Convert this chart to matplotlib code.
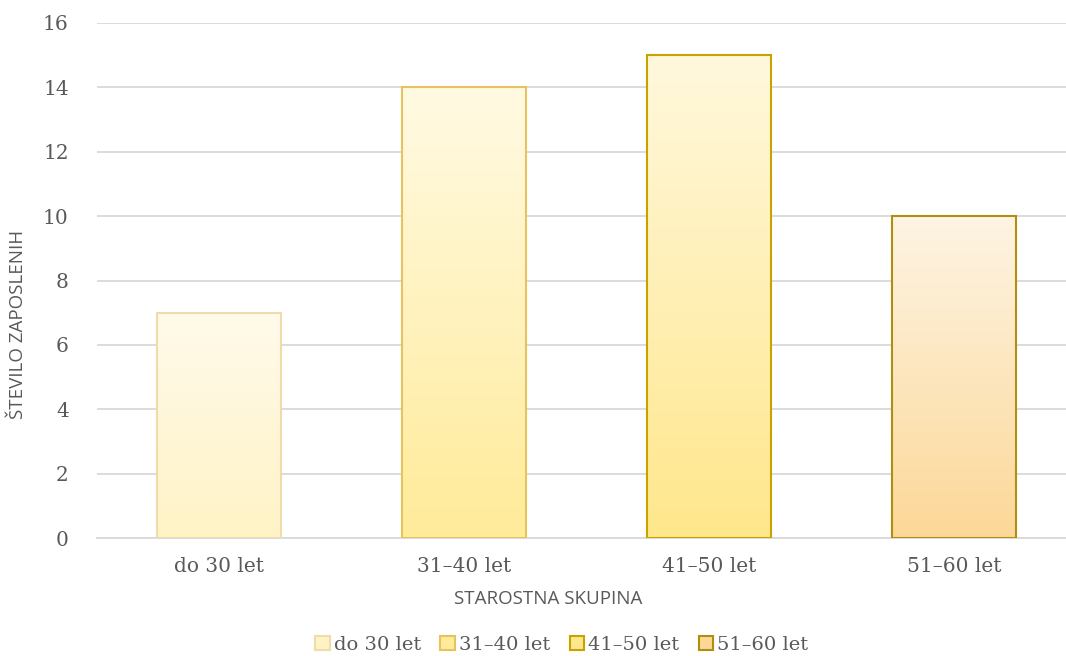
import numpy as np
import matplotlib
matplotlib.use("Agg")
import matplotlib.pyplot as plt
from matplotlib.colors import LinearSegmentedColormap
from matplotlib.patches import Patch

categories = ["do 30 let", "31–40 let", "41–50 let", "51–60 let"]
values = [7, 14, 15, 10]

# barve: zgoraj, spodaj, rob
top_colors = ["#FFFAEB", "#FFFAE3", "#FFF8DD", "#FEF4E4"]
bottom_colors = ["#FFF3C6", "#FFEB99", "#FFE78C", "#FCD898"]
edge_colors = ["#EEDDA8", "#E6C35C", "#C9A200", "#B08F10"]

serif = ["DejaVu Serif"]
sans = ["Open Sans", "DejaVu Sans"]
grey = "#595959"

fig = plt.figure(figsize=(10.66, 6.56), dpi=100)
ax = fig.add_axes([96.5 / 1066, 1 - 538 / 656, 980 / 1066, 515 / 656])

x = np.arange(len(categories))
bars = ax.bar(x, values, width=0.506, color="none", edgecolor=edge_colors, linewidth=1.5, zorder=3)

grad = np.linspace(0, 1, 256).reshape(-1, 1)
for b, c1, c2 in zip(bars, top_colors, bottom_colors):
    cmap = LinearSegmentedColormap.from_list("g", [c2, c1])
    x0, y0 = b.get_x(), b.get_y()
    im = ax.imshow(grad, cmap=cmap, aspect="auto", origin="lower",
                   extent=[x0, x0 + b.get_width(), y0, y0 + b.get_height()], zorder=2)
    im.set_clip_path(b)

ax.set_xlim(-0.5, 3.5)
ax.set_ylim(0, 16)
ax.set_yticks(range(0, 17, 2))
ax.set_xticks(x)
ax.set_xticklabels(categories)
ax.grid(axis="y", color="#D9D9D9", linewidth=1.3, zorder=0)
for s in ["top", "right", "left"]:
    ax.spines[s].set_visible(False)
ax.spines["bottom"].set_color("#D9D9D9")
ax.spines["bottom"].set_linewidth(1.3)
ax.tick_params(axis="both", length=0, labelcolor=grey)
ax.tick_params(axis="y", pad=20)
ax.tick_params(axis="x", pad=14)
for lbl in ax.get_xticklabels() + ax.get_yticklabels():
    lbl.set_family(serif)
    lbl.set_fontsize(14.5)

ax.set_xlabel("STAROSTNA SKUPINA", family=sans, fontsize=13.5, color=grey)
ax.set_ylabel("ŠTEVILO ZAPOSLENIH", family=sans, fontsize=13.5, color=grey)
ax.xaxis.set_label_coords(0.461, -0.1)
ax.yaxis.set_label_coords(-0.071, 0.414)

handles = [Patch(facecolor=bc, edgecolor=ec, linewidth=1.5) for bc, ec in zip(bottom_colors, edge_colors)]
leg = fig.legend(handles, categories, loc="center", bbox_to_anchor=(0.527, 1 - 645 / 656), ncol=4,
                 frameon=False, prop={"family": serif, "size": 14}, handlelength=0.75, handleheight=0.75,
                 handletextpad=0.2, columnspacing=1.0)
for t in leg.get_texts():
    t.set_color(grey)

fig.savefig("out.png", dpi=100)
